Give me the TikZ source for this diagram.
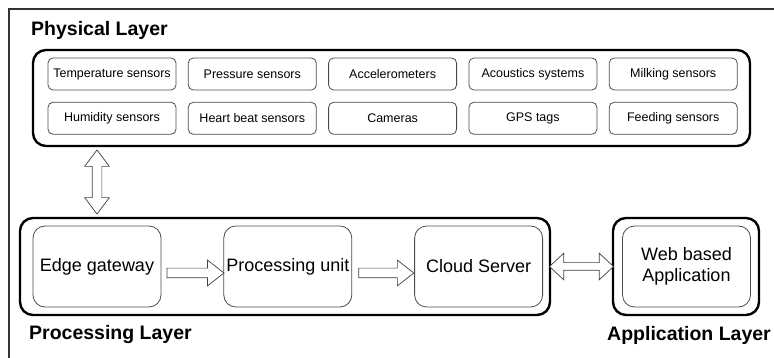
\documentclass[tikz,border=0pt]{standalone}
\usepackage{fontspec}
\setmainfont{Liberation Sans}
\usetikzlibrary{positioning,chains,shapes.arrows,calc}
\tikzset{
  sensor/.style={
    rectangle,
    rounded corners=5pt,
    draw=black!70, line width=0.8pt,
    minimum width=128pt,
    minimum height=32pt,
    inner sep=1pt,
    font=\fontsize{12.5}{15}\selectfont,
    on chain},
  unit/.style={
    rectangle,
    rounded corners=12pt,
    draw=black!70, line width=0.8pt,
    minimum width=128pt,
    minimum height=81pt,
    inner sep=1pt,
    align=center,
    font=\fontsize{18}{21.5}\selectfont},
  layer/.style={rectangle, rounded corners=13pt, draw=black, line width=2.4pt},
  layername/.style={anchor=west, inner sep=0pt,
    font=\fontsize{19.5}{23}\selectfont\bfseries},
  fatarrow/.style={
    single arrow, draw=black!75, line width=0.7pt, fill=white,
    inner sep=4.5pt,
    single arrow head extend=8pt,
    single arrow tip angle=76},
  twoway/.style={
    double arrow, draw=black!75, line width=0.7pt, fill=white,
    inner sep=#1,
    double arrow head extend=8pt,
    double arrow tip angle=80},
  twoway/.default=4pt
}

\begin{document}
\begin{tikzpicture}[x=1pt, y=-1pt]
  \useasboundingbox (0,0) rectangle (774,358);
  % frame
  \draw[black!80, line width=2pt] (9,362) -- (9,9) -- (778,9);

  % layers
  \node[layer, minimum width=717pt, minimum height=96pt] (physlayer) at (391.5,98) {};
  \node[layer, minimum width=530pt, minimum height=97pt] (proclayer) at (285,266.5) {};
  \node[layer, minimum width=146pt, minimum height=97pt] (applayer) at (686,266.5) {};

  \node[layername] (physname) at (31,30) {Physical Layer};
  \node[layername] (procname) at (29,335) {Processing Layer};
  \node[layername] (appname) at (607,335) {Application Layer};

  % sensors
  \begin{scope}[start chain=going right, node distance=11.5pt]
    \node[sensor] (temp) at (112,74) {Temperature sensors};
    \node[sensor] (press) {Pressure sensors};
    \node[sensor] (accel) {Accelerometers};
    \node[sensor] (acoust) {Acoustics systems};
    \node[sensor] (milk) {Milking sensors};
  \end{scope}
  \begin{scope}[start chain=going right, node distance=11.5pt]
    \node[sensor, below=of temp] (humid) {Humidity sensors};
    \node[sensor] (heart) {Heart beat sensors};
    \node[sensor] (cam) {Cameras};
    \node[sensor] (gps) {GPS tags};
    \node[sensor] (feed) {Feeding sensors};
  \end{scope}

  % processing
  \begin{scope}[start chain=going right, node distance=62pt]
    \node[unit, on chain] (edge) at (97,266.5) {Edge gateway};
    \node[unit, on chain] (punit) {Processing unit};
    \node[unit, on chain] (cloud) {Cloud Server};
  \end{scope}
  \node[unit] (webapp) at (686.5,266.5) {Web based\\Application};

  % arrows
  \path (edge.east) -- node[fatarrow, minimum height=57pt, yshift=-6.5pt] {} (punit.west);
  \path (punit.east) -- node[fatarrow, minimum height=55pt, yshift=-6.5pt] {} (cloud.west);
  \path (edge.north |- physlayer.south) -- node[twoway=4.5pt, sloped, minimum height=64pt,
    double arrow head extend=7.5pt, double arrow tip angle=74] {} (edge.north |- proclayer.north);
  \path (proclayer.east) -- node[twoway=3.5pt, minimum height=64pt,
    double arrow head extend=9.5pt, double arrow tip angle=86] {} (applayer.west);
\end{tikzpicture}
\end{document}
